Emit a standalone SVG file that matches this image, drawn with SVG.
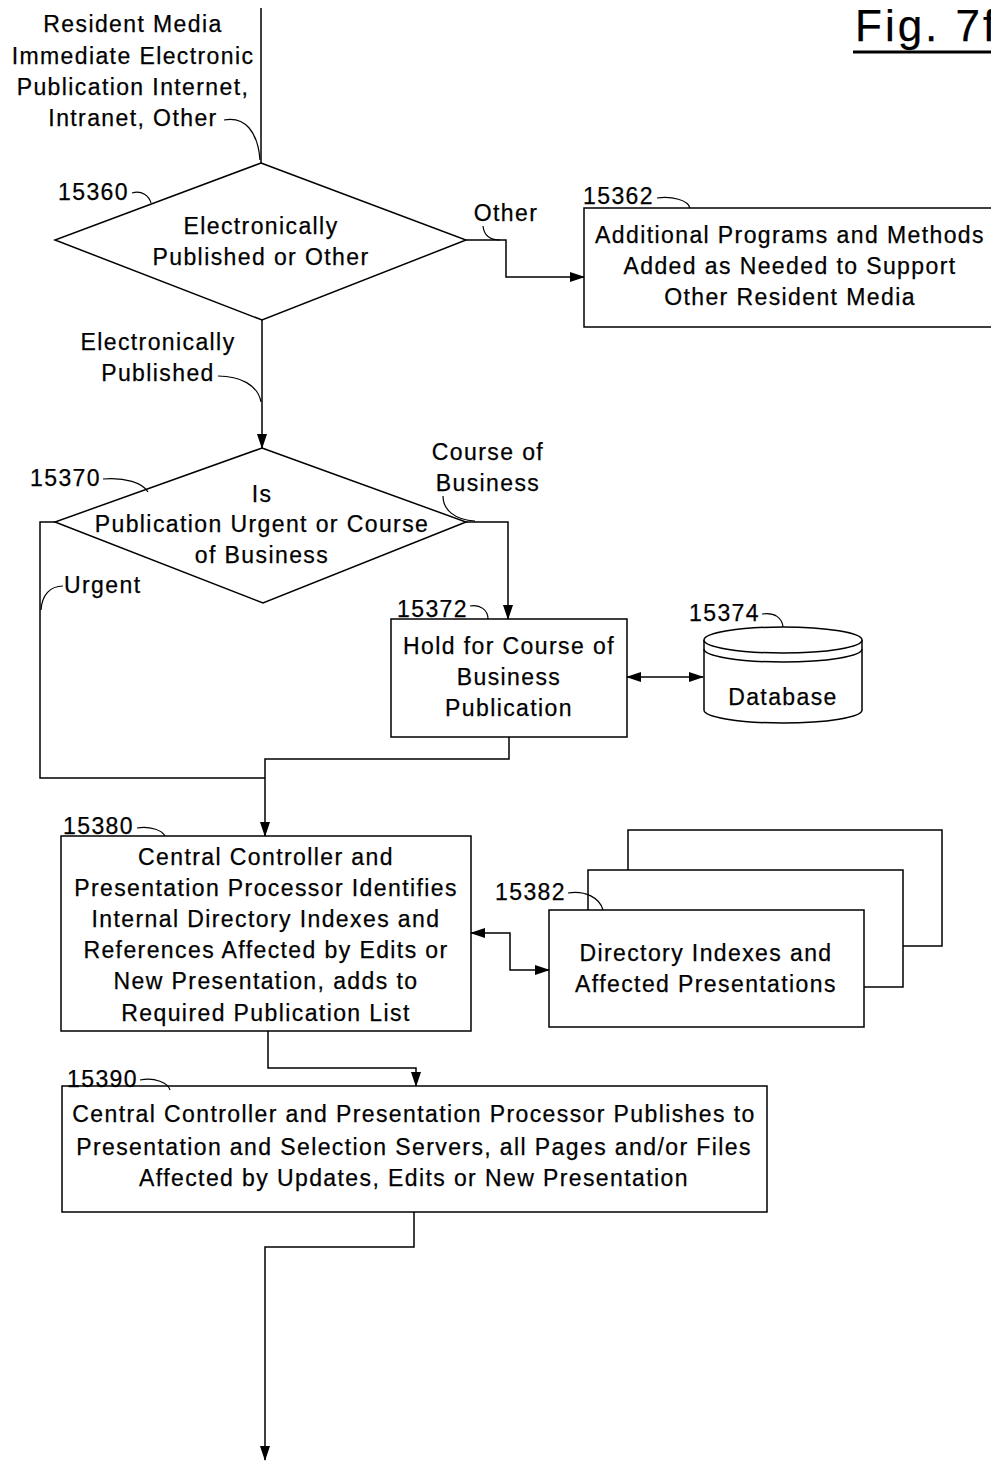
<svg xmlns="http://www.w3.org/2000/svg" width="991" height="1462" viewBox="0 0 991 1462">
<style>
text{font-family:"Liberation Sans",Arial,sans-serif;font-size:23px;letter-spacing:1.4px;fill:#000;stroke:#000;stroke-width:0.25}
.c{text-anchor:middle}
.s{fill:#fff;stroke:#000;stroke-width:1.5}
.l{fill:none;stroke:#000;stroke-width:1.5}
.ld{fill:none;stroke:#000;stroke-width:1.2}
</style>
<defs>
<marker id="a" markerUnits="userSpaceOnUse" markerWidth="15" markerHeight="11" refX="14" refY="5.5" orient="auto-start-reverse" viewBox="0 0 15 11">
<path d="M0,0.5 L15,5.5 L0,10.5 z" fill="#000"/>
</marker>
</defs>
<g id="title">
<text x="855" y="41" style="font-size:44px;letter-spacing:3px">Fig. 7f</text>
<line x1="853" y1="52" x2="991" y2="52" stroke="#000" stroke-width="3"/>
</g>
<g id="start">
<text class="c" x="133" y="32">Resident Media</text>
<text class="c" x="133" y="64">Immediate Electronic</text>
<text class="c" x="133" y="95">Publication  Internet,</text>
<text class="c" x="133" y="126">Intranet, Other</text>
<path class="ld" d="M224,120 C245,116 258,132 260,160"/>
</g>
<g id="n15360">
<polygon class="s" points="261,163 466,240 262,320 55,240"/>
<text class="c" x="261" y="234">Electronically</text>
<text class="c" x="261" y="265">Published or Other</text>
<text x="58" y="200">15360</text>
<path class="ld" d="M132,193 C142,190 149,196 151,203"/>
</g>
<g id="n15362">
<path class="s" d="M991,208 H584 V327 H991"/>
<text class="c" x="790" y="243">Additional Programs and Methods</text>
<text class="c" x="790" y="274">Added as Needed to Support</text>
<text class="c" x="790" y="305">Other Resident Media</text>
<text x="583" y="204">15362</text>
<path class="ld" d="M657,198 C672,196 688,200 690,208"/>
</g>
<g id="n15370">
<polygon class="s" points="262,448 466,522 263,603 55,522"/>
<text class="c" x="262" y="502">Is</text>
<text class="c" x="262" y="532">Publication Urgent or Course</text>
<text class="c" x="262" y="563">of Business</text>
<text x="30" y="486">15370</text>
<path class="ld" d="M103,479 C125,477 143,483 148,492"/>
</g>
<g id="n15372">
<rect class="s" x="391" y="619" width="236" height="118"/>
<text class="c" x="509" y="654">Hold for Course of</text>
<text class="c" x="509" y="685">Business</text>
<text class="c" x="509" y="716">Publication</text>
<text x="397" y="617">15372</text>
<path class="ld" d="M470,606 C480,604 488,610 488,619"/>
</g>
<g id="n15374">
<path class="s" d="M704,640 V710 A79,13 0 0 0 862,710 V640"/>
<ellipse class="s" cx="783" cy="640" rx="79" ry="13"/>
<path class="l" d="M704,649 A79,13 0 0 0 862,649"/>
<text class="c" x="783" y="705">Database</text>
<text x="689" y="621">15374</text>
<path class="ld" d="M762,614 C775,612 782,618 783,627"/>
</g>
<g id="n15380">
<rect class="s" x="61" y="836" width="410" height="195"/>
<text class="c" x="266" y="865">Central Controller and</text>
<text class="c" x="266" y="896">Presentation Processor Identifies</text>
<text class="c" x="266" y="927">Internal Directory Indexes and</text>
<text class="c" x="266" y="958">References Affected by Edits or</text>
<text class="c" x="266" y="989">New Presentation, adds to</text>
<text class="c" x="266" y="1021">Required Publication List</text>
<text x="63" y="834">15380</text>
<path class="ld" d="M137,828 C150,826 162,830 165,836"/>
</g>
<g id="n15382">
<rect class="s" x="628" y="830" width="314" height="116"/>
<rect class="s" x="588" y="870" width="315" height="117"/>
<rect class="s" x="549" y="910" width="315" height="117"/>
<text class="c" x="706" y="961">Directory Indexes and</text>
<text class="c" x="706" y="992">Affected Presentations</text>
<text x="495" y="900">15382</text>
<path class="ld" d="M568,893 C585,890 600,898 603,910"/>
</g>
<g id="n15390">
<rect class="s" x="62" y="1086" width="705" height="126"/>
<text class="c" x="414" y="1122">Central Controller and Presentation Processor Publishes to</text>
<text class="c" x="414" y="1155">Presentation and Selection Servers, all Pages and/or Files</text>
<text class="c" x="414" y="1186">Affected by Updates, Edits or New Presentation</text>
<text x="67" y="1087">15390</text>
<path class="ld" d="M140,1080 C155,1077 168,1083 170,1090"/>
</g>
<g id="connectors">
<line class="l" x1="261" y1="8" x2="261" y2="163"/>
<polyline class="l" points="466,240 506,240 506,277 584,277" marker-end="url(#a)"/>
<text class="c" x="506" y="221">Other</text>
<path class="ld" d="M483,226 C484,236 490,240 500,240"/>
<line class="l" x1="262" y1="320" x2="262" y2="448" marker-end="url(#a)"/>
<text class="c" x="158" y="350">Electronically</text>
<text class="c" x="158" y="381">Published</text>
<path class="ld" d="M218,376 C240,376 258,385 261,402"/>
<polyline class="l" points="466,522 508,522 508,619" marker-end="url(#a)"/>
<text class="c" x="488" y="460">Course of</text>
<text class="c" x="488" y="491">Business</text>
<path class="ld" d="M443,496 C443,510 455,520 475,521"/>
<polyline class="l" points="55,522 40,522 40,778 265,778"/>
<text x="64" y="593">Urgent</text>
<path class="ld" d="M63,586 C50,586 42,595 41,610"/>
<polyline class="l" points="509,737 509,759 265,759 265,836" marker-end="url(#a)"/>
<line class="l" x1="627" y1="677" x2="703" y2="677" marker-start="url(#a)" marker-end="url(#a)"/>
<path class="l" d="M471,933 H510 V970 H549" marker-start="url(#a)" marker-end="url(#a)"/>
<polyline class="l" points="268,1031 268,1068 416,1068 416,1086" marker-end="url(#a)"/>
<polyline class="l" points="414,1212 414,1247 265,1247 265,1460" marker-end="url(#a)"/>
</g>
</svg>
